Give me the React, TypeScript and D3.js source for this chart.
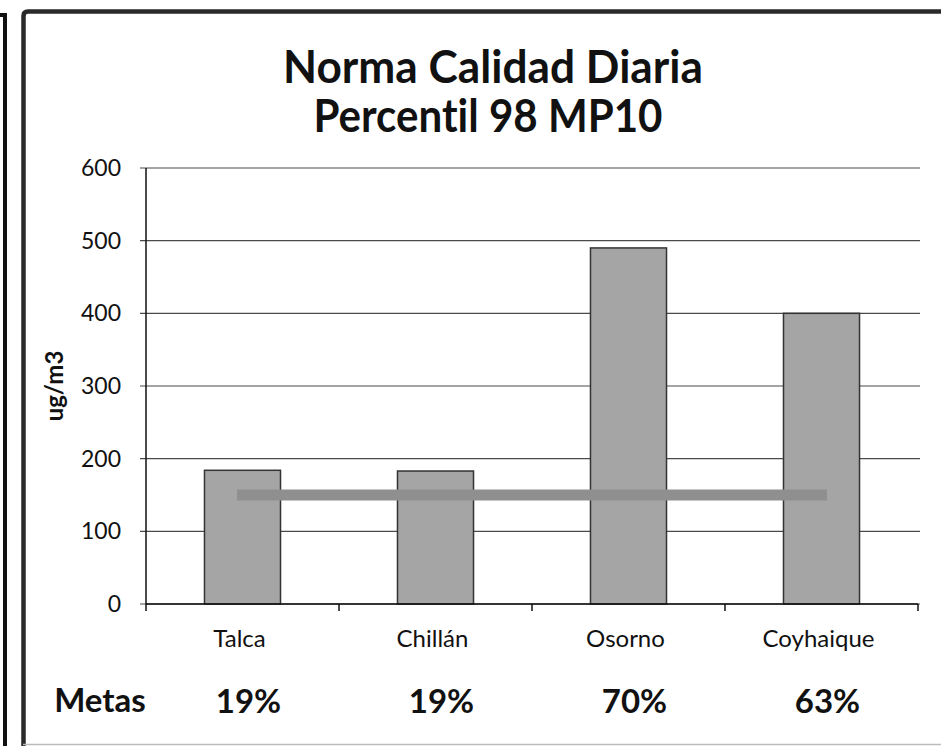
import React from "react";
import * as d3 from "d3";

const categories = ["Talca", "Chillán", "Osorno", "Coyhaique"];
const values = [184, 183, 490, 400];
const normValues = [150, 150, 150, 150];
const metas = ["19%", "19%", "70%", "63%"];
const yTicks = [0, 100, 200, 300, 400, 500, 600];
const titleLines = ["Norma Calidad Diaria", "Percentil 98 MP10"];
const yLabel = "ug/m3";
const metasLabel = "Metas";

const W = 941;
const H = 746;
const left = 146;
const right = 918;
const top = 168;
const bottom = 604;
const FONT = "Lato, 'Open Sans', sans-serif";

export default function App() {
  const x = d3
    .scaleBand<string>()
    .domain(categories)
    .range([left, right])
    .paddingInner(0.606)
    .paddingOuter(0.303);
  const y = d3.scaleLinear().domain([0, 600]).range([bottom, top]);
  const step = x.step();
  const boundaries = d3.range(categories.length + 1).map((i) => left + i * step);
  const cx = (c: string) => (x(c) as number) + x.bandwidth() / 2;
  const line = d3
    .line<number>()
    .x((_, i) => cx(categories[i]))
    .y((d) => y(d));

  return (
    <svg
      width={W}
      height={H}
      style={{ position: "absolute", left: 0, top: 0, background: "#fff", fontVariantLigatures: "none" }}
      fontFamily={FONT}
    >
      <rect x={0} y={0} width={W} height={H} fill="#fff" />
      {/* neighbouring panel edge */}
      <path d="M0,15 H5 V746" fill="none" stroke="#111" strokeWidth={4} />
      {/* frame */}
      <path
        d="M23.5,746 V16 Q23.5,11.5 28,11.5 H941"
        fill="none"
        stroke="#2a2a2a"
        strokeWidth={4.5}
      />
      <line x1={23} x2={941} y1={744.5} y2={744.5} stroke="#bbb" strokeWidth={1.5} />

      {/* title */}
      <text x={493} y={83} textAnchor="middle" fontSize={45} fontWeight={700} fill="#111" textLength={420} lengthAdjust="spacingAndGlyphs">
        {titleLines[0]}
      </text>
      <text x={488} y={132} textAnchor="middle" fontSize={45} fontWeight={700} fill="#111" textLength={349} lengthAdjust="spacingAndGlyphs">
        {titleLines[1]}
      </text>

      {/* gridlines + y ticks */}
      {yTicks.map((t) => (
        <g key={t}>
          <line x1={140} x2={920} y1={y(t)} y2={y(t)} stroke="#4a4a4a" strokeWidth={1.2} />
          <text x={121} y={y(t)} dy="0.35em" textAnchor="end" fontSize={23} fill="#111">
            {t}
          </text>
        </g>
      ))}

      {/* bars */}
      {categories.map((c, i) => (
        <rect
          key={c}
          x={x(c)}
          y={y(values[i])}
          width={x.bandwidth()}
          height={bottom - y(values[i])}
          fill="#a5a5a5"
          stroke="#333"
          strokeWidth={1.5}
        />
      ))}

      {/* norm line */}
      <path d={line(normValues) || ""} fill="none" stroke="#8f8f8f" strokeWidth={11} strokeLinecap="square" />

      {/* axes */}
      <line x1={left} x2={left} y1={top} y2={bottom} stroke="#111" strokeWidth={1.5} />
      <line x1={left} x2={right} y1={bottom} y2={bottom} stroke="#111" strokeWidth={1.5} />
      {boundaries.map((b, i) => (
        <line key={i} x1={b} x2={b} y1={bottom} y2={bottom + 7} stroke="#111" strokeWidth={1.5} />
      ))}

      {/* category labels */}
      {categories.map((c) => (
        <text key={c} x={cx(c) - 3} y={647} textAnchor="middle" fontSize={24} fill="#111">
          {c}
        </text>
      ))}

      {/* y axis label */}
      <text
        transform={`translate(63,386) rotate(-90)`}
        textAnchor="middle"
        fontSize={24}
        fontWeight={700}
        fill="#111"
      >
        {yLabel}
      </text>

      {/* metas */}
      <text x={100} y={712} textAnchor="middle" fontSize={33} fontWeight={700} fill="#111">
        {metasLabel}
      </text>
      {categories.map((c, i) => (
        <text key={c} x={cx(c) + 6} y={713} textAnchor="middle" fontSize={33} fontWeight={700} fill="#111">
          {metas[i]}
        </text>
      ))}
    </svg>
  );
}
